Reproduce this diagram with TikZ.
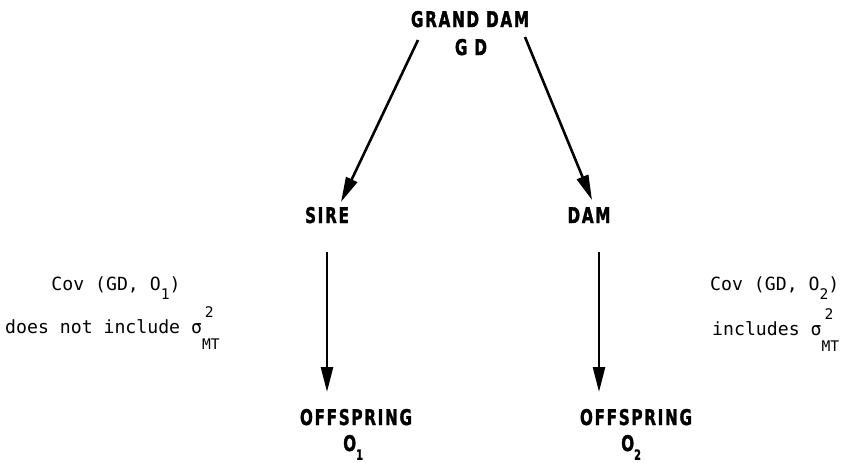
\documentclass[tikz,border=0pt]{standalone}
\usepackage{fontspec}
\usetikzlibrary{arrows.meta}
\newfontfamily\headfont{DejaVu Sans Bold}[FakeStretch=0.70,LetterSpace=8,FakeBold=1.5]
\newfontfamily\notefont{DejaVu Sans Mono}
\newcommand{\lowfont}{\fontsize{12.5}{14}\selectfont}
\newcommand{\hsub}[1]{\raisebox{-7.5pt}{\fontsize{12}{14}\selectfont #1}}
\newcommand{\osub}[1]{\raisebox{-8.5pt}{\lowfont #1}}
\newcommand{\sigmt}{σ\makebox[0pt][l]{\hspace{2.5pt}\raisebox{13.5pt}{\lowfont 2}}\raisebox{-14.5pt}{\lowfont MT}}

\tikzset{
  head/.style={font=\headfont\fontsize{18.5}{22}\selectfont, inner sep=0pt, anchor=base},
  note/.style={font=\notefont\fontsize{15.5}{18}\selectfont, inner sep=0pt, anchor=base west},
  arr/.style={-{Triangle[length=7.5mm,width=3.6mm]}, line width=2.2pt},
}

\begin{document}
\begin{tikzpicture}[x=0.03cm, y=-0.03cm]
\useasboundingbox (0,0) rectangle (844,462);

\node[head] (gdname) at (470,27) {GRAND DAM};
\node[head] (gdabbr) at (471,55) {G D};
\node[head] (sire) at (327,223) {SIRE};
\node[head] (dam) at (589,223) {DAM};
\node[head] (offl) at (356,425) {OFFSPRING};
\node[head, anchor=base west] (ol) at (343,451) {O\hsub{1}};
\node[head] (offr) at (636,425) {OFFSPRING};
\node[head, anchor=base west] (or) at (621,451) {O\hsub{2}};

\node[note, anchor=base] (covl) at (116,290) {Cov (GD, O\osub{1})};
\node[note] (notl) at (5,333) {does not include \sigmt};
\node[note] (covr) at (710,290) {Cov (GD, O\osub{2})};
\node[note] (incr) at (712,335) {includes \sigmt};

\coordinate (gdl) at (418,40);
\coordinate (gdr) at (525,37);
\coordinate (sirein) at (341,202);
\coordinate (damin) at (592,200);
\coordinate (sireout) at (327,252);
\coordinate (damout) at (599,252);
\coordinate (offlin) at (327,392);
\coordinate (offrin) at (599,392);

\draw[arr] (gdl) -- (sirein);
\draw[arr] (gdr) -- (damin);
\draw[arr] (sireout) -- (offlin);
\draw[arr] (damout) -- (offrin);
\end{tikzpicture}
\end{document}
